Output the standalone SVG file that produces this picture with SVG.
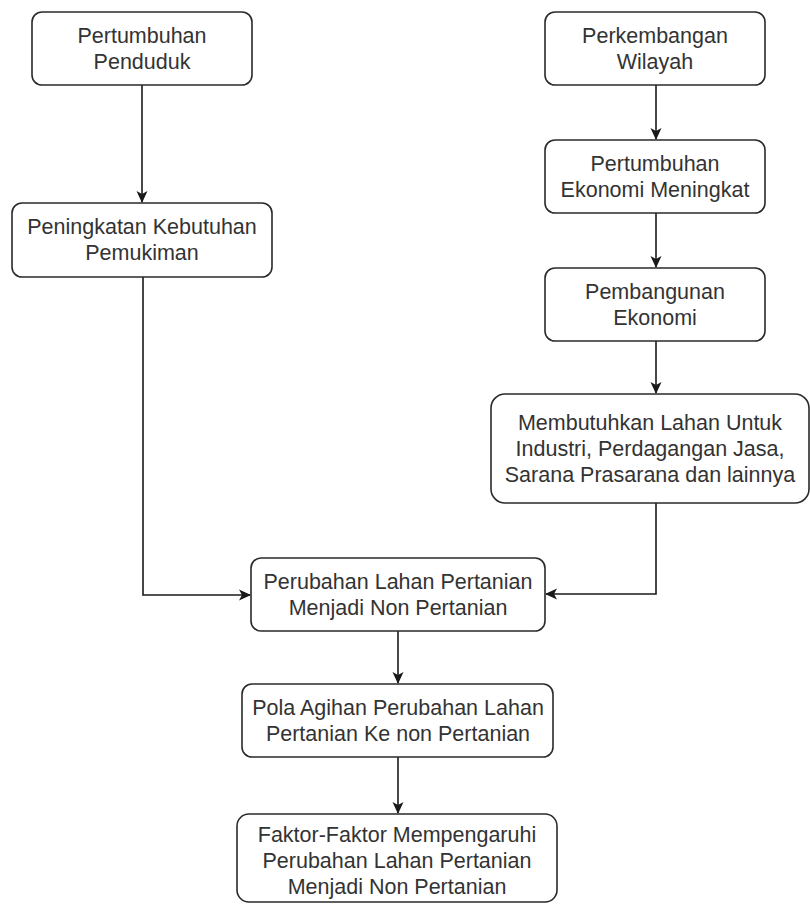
<svg xmlns="http://www.w3.org/2000/svg" width="810" height="904" viewBox="0 0 810 904">
<defs>
<style>
.box{fill:#fff;stroke:#2a2a2a;stroke-width:1.6}
.lbl{font-family:"Liberation Sans",Arial,sans-serif;font-size:21.5px;fill:#333;text-anchor:middle}
.edge{fill:none;stroke:#1a1a1a;stroke-width:1.6}
</style>
<marker id="arr" viewBox="0 0 12 12" refX="11" refY="6" markerWidth="12" markerHeight="12" markerUnits="userSpaceOnUse" orient="auto">
<path d="M0,0.5 L12,6 L0,11.5 L3,6 Z" fill="#1a1a1a"/>
</marker>
</defs>
<rect width="810" height="904" fill="#fff"/>
<g id="connectors">
<path class="edge" d="M142,85 V202" marker-end="url(#arr)"/>
<path class="edge" d="M656,85 V139" marker-end="url(#arr)"/>
<path class="edge" d="M656,213 V267" marker-end="url(#arr)"/>
<path class="edge" d="M656,341 V393" marker-end="url(#arr)"/>
<path class="edge" d="M143,277 V595 H250" marker-end="url(#arr)"/>
<path class="edge" d="M656,503 V594 H546" marker-end="url(#arr)"/>
<path class="edge" d="M398,631 V683" marker-end="url(#arr)"/>
<path class="edge" d="M398,757 V813" marker-end="url(#arr)"/>
</g>
<g id="n1"><rect class="box" x="32" y="12" width="220" height="73" rx="10"/>
<text class="lbl" x="142" y="43">Pertumbuhan</text><text class="lbl" x="142" y="69">Penduduk</text></g>
<g id="n2"><rect class="box" x="12" y="203" width="260" height="74" rx="10"/>
<text class="lbl" x="142" y="234">Peningkatan Kebutuhan</text><text class="lbl" x="142" y="260">Pemukiman</text></g>
<g id="n3"><rect class="box" x="545" y="12" width="220" height="73" rx="10"/>
<text class="lbl" x="655" y="43">Perkembangan</text><text class="lbl" x="655" y="69">Wilayah</text></g>
<g id="n4"><rect class="box" x="545" y="140" width="220" height="73" rx="10"/>
<text class="lbl" x="655" y="171">Pertumbuhan</text><text class="lbl" x="655" y="197">Ekonomi Meningkat</text></g>
<g id="n5"><rect class="box" x="545" y="268" width="220" height="73" rx="10"/>
<text class="lbl" x="655" y="299">Pembangunan</text><text class="lbl" x="655" y="325">Ekonomi</text></g>
<g id="n6"><rect class="box" x="491" y="394" width="318" height="109" rx="14"/>
<text class="lbl" x="650" y="430">Membutuhkan Lahan Untuk</text><text class="lbl" x="650" y="456">Industri, Perdagangan Jasa,</text><text class="lbl" x="650" y="482">Sarana Prasarana dan lainnya</text></g>
<g id="n7"><rect class="box" x="251" y="558" width="294" height="73" rx="10"/>
<text class="lbl" x="398" y="589">Perubahan Lahan Pertanian</text><text class="lbl" x="398" y="615">Menjadi Non Pertanian</text></g>
<g id="n8"><rect class="box" x="242" y="684" width="311" height="73" rx="10"/>
<text class="lbl" x="398" y="715">Pola Agihan Perubahan Lahan</text><text class="lbl" x="398" y="741">Pertanian Ke non Pertanian</text></g>
<g id="n9"><rect class="box" x="237" y="814" width="320" height="88" rx="12"/>
<text class="lbl" x="397" y="842">Faktor-Faktor Mempengaruhi</text><text class="lbl" x="397" y="868">Perubahan Lahan Pertanian</text><text class="lbl" x="397" y="894">Menjadi Non Pertanian</text></g>
</svg>
